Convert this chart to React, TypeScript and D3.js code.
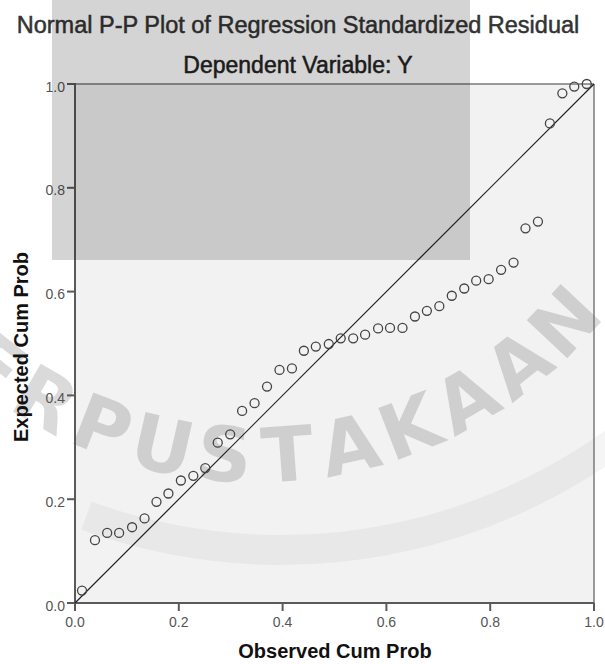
import React from "react";
import * as d3 from "d3";

// observed cumulative probability (x) and expected cumulative probability (y)
const observed = [
  0.0135, 0.0385, 0.062, 0.085, 0.11, 0.134, 0.157, 0.18, 0.204, 0.228,
  0.251, 0.275, 0.299, 0.322, 0.346, 0.37, 0.394, 0.418, 0.441, 0.464,
  0.489, 0.512, 0.536, 0.559, 0.584, 0.607, 0.631, 0.655, 0.678, 0.702,
  0.726, 0.75, 0.773, 0.797, 0.821, 0.845, 0.868, 0.892, 0.915, 0.939,
  0.962, 0.986,
];
const expected = [
  0.024, 0.121, 0.135, 0.135, 0.146, 0.163, 0.195, 0.211, 0.236, 0.245,
  0.26, 0.309, 0.325, 0.37, 0.385, 0.417, 0.449, 0.452, 0.486, 0.494,
  0.499, 0.51, 0.51, 0.517, 0.529, 0.53, 0.53, 0.552, 0.563, 0.572,
  0.592, 0.606, 0.621, 0.624, 0.642, 0.656, 0.722, 0.735, 0.924, 0.982,
  0.995, 1.0,
];
const tickValues = [0, 0.2, 0.4, 0.6, 0.8, 1.0];

const title = "Normal P-P Plot of Regression Standardized Residual";
const subtitle = "Dependent Variable: Y";
const xLabel = "Observed Cum Prob";
const yLabel = "Expected Cum Prob";
// background watermark, only the part that shows on the page
const watermark = "ERPUSTAKAAN";

const W = 605, H = 664;
const x = d3.scaleLinear().domain([0, 1]).range([75, 594]);
const y = d3.scaleLinear().domain([0, 1]).range([603, 84]);
const fmt = d3.format(".1f");

// watermark arc (decorative)
const wmCx = 256, wmCy = 33, wmR = 422;
const wmStart = 119.85 + 8.53, wmStep = 8.53;

export default function App() {
  const band = d3.arc()({
    innerRadius: 554,
    outerRadius: 584,
    startAngle: (200 * Math.PI) / 180,
    endAngle: (130 * Math.PI) / 180,
  } as any);

  return (
    <svg width={W} height={H} style={{ position: "absolute", left: 0, top: 0, background: "#fff" }}
      fontFamily="'Liberation Sans', Arial, sans-serif">
      {/* plot area */}
      <rect x={x(0)} y={y(1)} width={x(1) - x(0)} height={y(0) - y(1)} fill="#f2f2f2" />

      {/* watermark */}
      <path d={band || ""} transform="translate(281,-19)" fill="#000" opacity={0.04} />
      {watermark.split("").map((ch, i) => {
        const th = wmStart - i * wmStep;
        const rad = (th * Math.PI) / 180;
        const cx = wmCx + wmR * Math.cos(rad);
        const cy = wmCy + wmR * Math.sin(rad);
        return (
          <text key={i} x={0} y={0} dy="0.36em" textAnchor="middle"
            transform={`translate(${cx},${cy}) rotate(${th - 90})`}
            fontFamily="'DejaVu Sans', sans-serif" fontWeight="bold" fontSize={76}
            fill="#000" opacity={0.14}>{ch}</text>
        );
      })}

      {/* frame */}
      <line x1={x(0)} x2={x(1)} y1={y(1)} y2={y(1)} stroke="#7a7a7a" strokeWidth={1.5} />
      <line x1={x(1)} x2={x(1)} y1={y(1)} y2={y(0)} stroke="#7a7a7a" strokeWidth={1.5} />
      <line x1={x(0)} x2={x(0)} y1={y(1) - 1} y2={y(0) + 1} stroke="#5a5a5a" strokeWidth={2} />
      <line x1={x(0) - 1} x2={x(1)} y1={y(0)} y2={y(0)} stroke="#5a5a5a" strokeWidth={2} />

      {/* y ticks */}
      {tickValues.map((t) => (
        <g key={"y" + t}>
          <line x1={x(0) - 8} x2={x(0)} y1={y(t)} y2={y(t)} stroke="#5a5a5a" strokeWidth={2} />
          <text x={x(0) - 10} y={y(t) + 7.5} textAnchor="end" fontSize={14} fill="#555">{fmt(t)}</text>
        </g>
      ))}
      {/* x ticks */}
      {tickValues.map((t) => (
        <g key={"x" + t}>
          <line x1={x(t)} x2={x(t)} y1={y(0)} y2={y(0) + 8} stroke="#5a5a5a" strokeWidth={2} />
          <text x={x(t)} y={627} textAnchor="middle" fontSize={14} fill="#555">{fmt(t)}</text>
        </g>
      ))}

      {/* reference line */}
      <line x1={x(0)} y1={y(0)} x2={x(1)} y2={y(1)} stroke="#222" strokeWidth={1.2} />

      {/* points */}
      {observed.map((v, i) => (
        <circle key={i} cx={x(v)} cy={y(expected[i])} r={4.5} fill="none" stroke="#444" strokeWidth={1.3} />
      ))}

      {/* titles */}
      <text x={298} y={33} textAnchor="middle" fontSize={23.5} fill="#333" stroke="#333" strokeWidth={0.5}>{title}</text>
      <text x={298} y={73} textAnchor="middle" fontSize={23} fill="#222" stroke="#222" strokeWidth={0.5}>{subtitle}</text>
      <text x={335} y={658} textAnchor="middle" fontSize={20} fontWeight="bold" fill="#111">{xLabel}</text>
      <text transform="translate(28,347) rotate(-90)" textAnchor="middle" fontSize={20} fontWeight="bold" fill="#111">{yLabel}</text>

      {/* grey overlay block */}
      <rect x={52} y={0} width={418} height={260} fill="#000" opacity={0.17} />
    </svg>
  );
}
